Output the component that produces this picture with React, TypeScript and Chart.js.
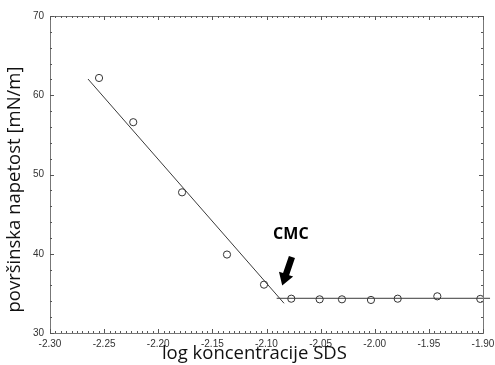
import React, { useEffect, useRef } from "react";
import { Chart, registerables } from "chart.js";

Chart.register(...registerables);

const measX: number[] = [-2.2547, -2.2231, -2.178, -2.1365, -2.1023, -2.0771, -2.0509, -2.0303, -2.0035, -1.9788, -1.9422, -1.9025];
const measY: number[] = [62.18, 56.6, 47.75, 39.9, 36.1, 34.33, 34.25, 34.25, 34.17, 34.33, 34.63, 34.3];

const fit1X: number[] = [-2.2649, -2.0838];
const fit1Y: number[] = [62.05, 33.75];
const fit2X: number[] = [-2.0906, -1.8935];
const fit2Y: number[] = [34.38, 34.38];

const xMin = -2.3, xMax = -1.9, xMajor = 0.05, xMinor = 0.005;
const yMin = 30, yMax = 70, yMajor = 10, yMinor = 2;

const xTitle = "log koncentracije SDS";
const yTitle = "površinska napetost [mN/m]";
const cmcLabel = "CMC";
const cmcLabelPos = { x: -2.0775, y: 42.4 };
const arrowTail = { x: -2.0765, y: 39.6 };
const arrowTip = { x: -2.0855, y: 36.0 };

const decorPlugin = {
  id: "decor",
  afterDraw(chart: any) {
    const ctx = chart.ctx as CanvasRenderingContext2D;
    const { left, right, top, bottom } = chart.chartArea;
    const xs = chart.scales.x;
    const ys = chart.scales.y;
    ctx.save();
    // frame top/right
    ctx.strokeStyle = "#777";
    ctx.lineWidth = 1;
    ctx.beginPath();
    ctx.moveTo(left, top + 0.5);
    ctx.lineTo(right + 0.5, top + 0.5);
    ctx.lineTo(right + 0.5, bottom);
    ctx.stroke();
    // ticks
    ctx.strokeStyle = "#555";
    ctx.beginPath();
    const nx = Math.round((xMax - xMin) / xMinor);
    for (let i = 0; i <= nx; i++) {
      const v = xMin + i * xMinor;
      const px = Math.round(xs.getPixelForValue(v)) + 0.5;
      const len = i % 10 === 0 ? 4 : 2;
      ctx.moveTo(px, bottom);
      ctx.lineTo(px, bottom - len);
      ctx.moveTo(px, top);
      ctx.lineTo(px, top + len);
    }
    const ny = Math.round((yMax - yMin) / yMinor);
    for (let i = 0; i <= ny; i++) {
      const v = yMin + i * yMinor;
      const py = Math.round(ys.getPixelForValue(v)) + 0.5;
      const len = i % 5 === 0 ? 4 : 2;
      ctx.moveTo(left, py);
      ctx.lineTo(left + len, py);
      ctx.moveTo(right, py);
      ctx.lineTo(right - len, py);
    }
    ctx.stroke();

    // titles
    ctx.fillStyle = "#111";
    ctx.font = "18.5px 'Open Sans'";
    ctx.textAlign = "center";
    ctx.textBaseline = "middle";
    ctx.fillText(xTitle, left + (right - left) * 0.472, 354);
    ctx.save();
    ctx.translate(15, top + (bottom - top) * 0.5 + 15);
    ctx.rotate(-Math.PI / 2);
    ctx.fillText(yTitle, 0, 0);
    ctx.restore();

    // CMC label
    ctx.font = "bold 16px 'Open Sans'";
    ctx.fillStyle = "#000";
    ctx.fillText(cmcLabel, xs.getPixelForValue(cmcLabelPos.x), ys.getPixelForValue(cmcLabelPos.y));

    // arrow
    const tx = xs.getPixelForValue(arrowTail.x), ty = ys.getPixelForValue(arrowTail.y);
    const hx = xs.getPixelForValue(arrowTip.x), hy = ys.getPixelForValue(arrowTip.y);
    const ang = Math.atan2(hy - ty, hx - tx);
    const L = Math.hypot(hx - tx, hy - ty);
    const headLen = 12, headW = 7.5, shaftW = 3.2;
    ctx.translate(tx, ty);
    ctx.rotate(ang);
    ctx.beginPath();
    ctx.moveTo(0, -shaftW);
    ctx.lineTo(L - headLen, -shaftW);
    ctx.lineTo(L - headLen, -headW);
    ctx.lineTo(L, 0);
    ctx.lineTo(L - headLen, headW);
    ctx.lineTo(L - headLen, shaftW);
    ctx.lineTo(0, shaftW);
    ctx.closePath();
    ctx.fill();
    ctx.restore();
  },
};

export default function App() {
  const ref = useRef<HTMLCanvasElement>(null);
  useEffect(() => {
    if (!ref.current) return;
    const chart = new Chart(ref.current, {
      type: "scatter",
      data: {
        datasets: [
          {
            type: "line",
            data: fit1X.map((x, i) => ({ x, y: fit1Y[i] })),
            borderColor: "#3a3a3a",
            borderWidth: 1,
            pointRadius: 0,
            fill: false,
          } as any,
          {
            type: "line",
            data: fit2X.map((x, i) => ({ x, y: fit2Y[i] })),
            borderColor: "#3a3a3a",
            borderWidth: 1,
            pointRadius: 0,
            fill: false,
            clip: false,
          } as any,
          {
            type: "scatter",
            data: measX.map((x, i) => ({ x, y: measY[i] })),
            pointRadius: 3.6,
            pointBorderWidth: 1,
            borderColor: "#333",
            backgroundColor: "rgba(255,255,255,0)",
            pointBackgroundColor: "rgba(255,255,255,0)",
            pointBorderColor: "#333",
          } as any,
        ],
      },
      options: {
        animation: false,
        responsive: false,
        events: [],
        layout: { padding: { left: 0, top: 16, right: 12, bottom: 0 } },
        plugins: { legend: { display: false }, tooltip: { enabled: false } },
        scales: {
          x: {
            type: "linear",
            min: xMin,
            max: xMax,
            afterFit: (s: any) => { s.height = 32; s.paddingLeft = 0; s.paddingRight = 0; },
            grid: { display: false, drawTicks: false },
            border: { display: true, color: "#777", width: 1 },
            ticks: {
              stepSize: xMajor,
              padding: 5,
              maxRotation: 0,
              color: "#333",
              font: { family: "'Liberation Sans', Arial", size: 10 },
              callback: (v: any) => Number(v).toFixed(2),
            },
          },
          y: {
            type: "linear",
            min: yMin,
            max: yMax,
            afterFit: (s: any) => { s.width = 50; s.paddingTop = 0; s.paddingBottom = 0; },
            grid: { display: false, drawTicks: false },
            border: { display: true, color: "#777", width: 1 },
            ticks: {
              stepSize: yMajor,
              padding: 6,
              color: "#333",
              font: { family: "'Liberation Sans', Arial", size: 10 },
              callback: (v: any) => String(Math.round(Number(v))),
            },
          },
        },
      },
      plugins: [decorPlugin],
    } as any);
    return () => chart.destroy();
  }, []);
  return (
    <div style={{ position: "fixed", left: 0, top: 0, width: 495, height: 365, background: "#fff" }}>
      <canvas ref={ref} width={495} height={365} />
    </div>
  );
}
